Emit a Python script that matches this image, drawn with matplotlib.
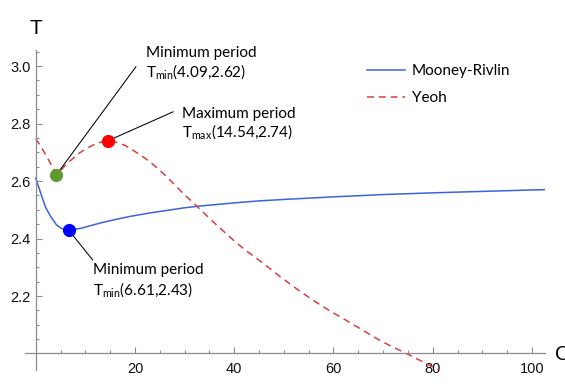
import matplotlib
matplotlib.use("Agg")
import matplotlib.pyplot as plt
from matplotlib.ticker import FixedLocator

# Mooney-Rivlin period curve
mr_c = [0, 1, 2, 3, 4.2, 5.2, 6.61, 9, 13, 16, 19, 23, 30, 33, 40, 45, 50, 60, 70, 80, 90, 100, 103]
mr_t = [2.61, 2.558, 2.508, 2.477, 2.447, 2.435, 2.43, 2.435, 2.454, 2.466, 2.477, 2.489,
        2.507, 2.513, 2.524, 2.531, 2.536, 2.545, 2.553, 2.559, 2.564, 2.569, 2.570]

# Yeoh period curve
yeoh_c = [0, 1, 2, 3, 4.09, 5, 6, 7.2, 8.5, 10.3, 12.5, 14.54, 16.3, 18, 19.7, 21.5, 23,
          24.7, 26.4, 28, 29.7, 31.4, 33.1, 34.8, 36.5, 38.2, 39.8, 42, 44.5, 47, 49.2,
          52.5, 55.9, 59.2, 62.6, 66, 69.4, 72, 74.7, 78, 82]
yeoh_t = [2.748, 2.721, 2.692, 2.661, 2.625, 2.636, 2.655, 2.674, 2.694, 2.714, 2.733,
          2.74, 2.735, 2.724, 2.706, 2.686, 2.667, 2.642, 2.615, 2.587, 2.557, 2.53,
          2.502, 2.474, 2.446, 2.42, 2.395, 2.363, 2.331, 2.298, 2.268, 2.226, 2.185,
          2.149, 2.115, 2.08, 2.045, 2.022, 2.0, 1.971, 1.936]

# extrema
ymin_c, ymin_t = 4.09, 2.62
ymax_c, ymax_t = 14.54, 2.74
mrmin_c, mrmin_t = 6.61, 2.43

blue = "#3b64d8"
red = "#d6403f"
plt.rcParams["font.family"] = ["Liberation Sans", "DejaVu Sans"]
plt.rcParams["lines.scale_dashes"] = False
plt.rcParams["mathtext.fontset"] = "custom"
plt.rcParams["mathtext.rm"] = "Lato"

fig = plt.figure(figsize=(5.65, 3.86), dpi=100)
ax = fig.add_axes([0.0439, 0.0425, 0.9205, 0.828])
ax.set_xlim(-2.2, 102.6)
ax.set_ylim(1.944, 3.056)

ax.plot(mr_c, mr_t, color=blue, lw=1.1, label="Mooney-Rivlin")
ax.plot(yeoh_c, yeoh_t, color=red, lw=1.1, dashes=(5, 3.5), label="Yeoh")

ax.plot(ymin_c, ymin_t, "o", color="#5e9a2e", ms=8.5, zorder=5)
ax.plot(ymax_c, ymax_t, "o", color="#ff0000", ms=8.5, zorder=5)
ax.plot(mrmin_c, mrmin_t, "o", color="#0000ff", ms=8.5, zorder=5)

# leader lines
lead = dict(arrowstyle="-", color="black", lw=0.75, shrinkA=0, shrinkB=0)
ax.annotate("", xy=(ymin_c, ymin_t), xytext=(20.2, 2.998), arrowprops=lead)
ax.annotate("", xy=(ymax_c, ymax_t), xytext=(27.7, 2.841), arrowprops=lead)
ax.annotate("", xy=(mrmin_c, mrmin_t), xytext=(11.5, 2.325), arrowprops=lead)

tf = dict(family="Lato", fontsize=11, va="baseline", ha="left")
ax.text(22.2, 3.030, "Minimum period", **tf)
ax.text(22.2, 2.961, "T$_{\\mathrm{min}}$(%.2f,%.2f)" % (ymin_c, ymin_t), **tf)
ax.text(29.4, 2.818, "Maximum period", **tf)
ax.text(29.4, 2.751, "T$_{\\mathrm{max}}$(%.2f,%.2f)" % (ymax_c, ymax_t), **tf)
ax.text(11.5, 2.275, "Minimum period", **tf)
ax.text(11.5, 2.2035, "T$_{\\mathrm{min}}$(%.2f,%.2f)" % (mrmin_c, mrmin_t), **tf)

# axes crossing at (0, 2)
for s in ["top", "right"]:
    ax.spines[s].set_visible(False)
ax.spines["left"].set_position(("data", 0))
ax.spines["bottom"].set_position(("data", 2.0))
for s in ["left", "bottom"]:
    ax.spines[s].set_color("#8c8c8c")
    ax.spines[s].set_linewidth(0.9)

ax.xaxis.set_major_locator(FixedLocator([20, 40, 60, 80, 100]))
ax.xaxis.set_minor_locator(FixedLocator([c for c in range(5, 101, 5) if c % 20]))
ax.yaxis.set_major_locator(FixedLocator([2.2, 2.4, 2.6, 2.8, 3.0]))
ax.yaxis.set_minor_locator(FixedLocator([2.05, 2.1, 2.15, 2.25, 2.3, 2.35, 2.45, 2.5, 2.55,
                                         2.65, 2.7, 2.75, 2.85, 2.9, 2.95, 3.05]))
ax.set_yticklabels(["2.2", "2.4", "2.6", "2.8", "3.0"])
ax.tick_params(which="both", direction="in", color="#8c8c8c", width=0.8,
               labelsize=10.5, labelcolor="#111111")
ax.tick_params(which="major", length=4)
ax.tick_params(which="minor", length=2.4)
ax.tick_params(axis="x", pad=5.8)
ax.tick_params(axis="y", pad=3.8)

fig.text(36.2 / 565, 1 - 29 / 386, "T", fontsize=15, ha="center", va="center")
fig.text(555 / 565, 1 - 354 / 386, "C", fontsize=15, ha="left", va="center")

ax.legend(loc="upper left", bbox_to_anchor=(367 / 565, 1 - 64 / 386),
          bbox_transform=fig.transFigure, frameon=False, borderpad=0,
          borderaxespad=0, handlelength=2.5, handletextpad=0.45,
          labelspacing=0.85, prop=dict(family="Lato", size=11))

fig.savefig("out.png", dpi=100)
